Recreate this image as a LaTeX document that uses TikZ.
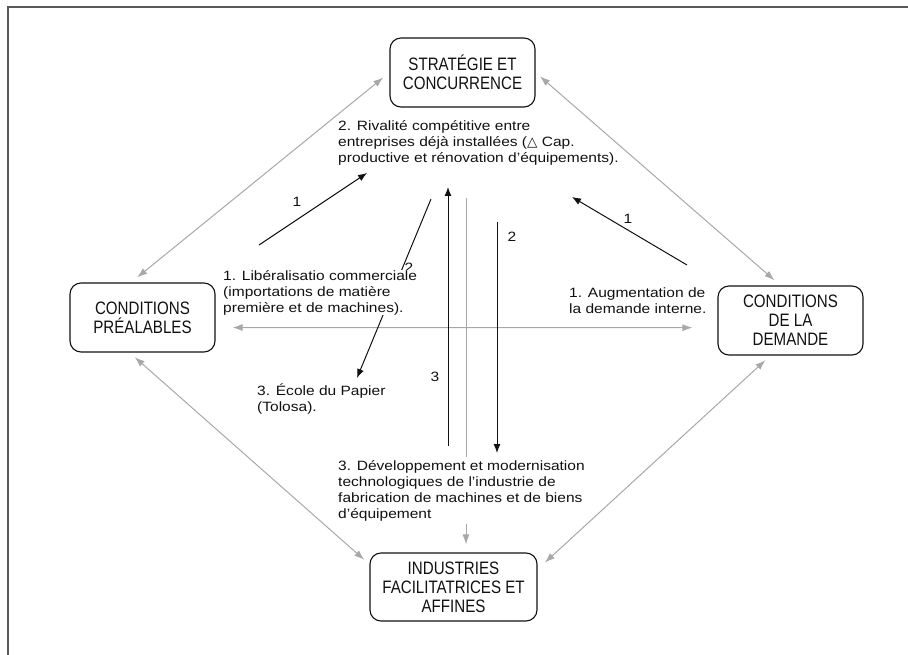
\documentclass[tikz,border=0pt]{standalone}
\usepackage{fontspec}
\setmainfont[FakeStretch=1.15]{Liberation Sans}
\newfontfamily\boxfont[FakeStretch=0.84]{Liberation Sans}
\newfontfamily\symfont{DejaVu Sans}
\usetikzlibrary{arrows.meta}
\definecolor{ink}{HTML}{111111}
\definecolor{lightink}{HTML}{A8A8A8}
\definecolor{framegray}{HTML}{5A5A5A}

\begin{document}
\begin{tikzpicture}[x=1pt,y=-1pt]

\useasboundingbox (0,0) rectangle (908,655);

\tikzstyle{pole}=[
	rectangle,
	rounded corners=11pt,
	draw=ink,
	line width=1.1pt,
	minimum width=145pt,
	minimum height=69pt,
	align=center,
	text=ink,
	font=\boxfont\fontsize{18}{19}\selectfont
]
\tikzstyle{txt}=[
	anchor=north west,
	inner sep=0pt,
	align=left,
	text=ink,
	font=\fontsize{13.5}{16}\selectfont
]
\tikzstyle{num}=[
	inner sep=0pt,
	text=ink,
	font=\fontsize{13.5}{16}\selectfont
]
\tikzstyle{arr}=[-{Latex[length=9pt,width=7pt]}, draw=ink, line width=1pt]
\tikzstyle{glink}=[draw=lightink, line width=1pt]
\tikzstyle{link}=[glink, {Latex[length=10pt,width=7pt]}-{Latex[length=10pt,width=7pt]}]

% frame
\draw[draw=framegray, line width=1.8pt] (8,655) -- (8,7) -- (908,7);

\node[pole] (strat) at (462.5,72.5) {STRATÉGIE ET\\CONCURRENCE};
\node[pole] (preal) at (142.5,317.5) {CONDITIONS\\PRÉALABLES};
\node[pole] (deman) at (790.5,320.5) {CONDITIONS\\DE LA\\DEMANDE};
\node[pole, minimum width=167pt, minimum height=68pt] (indus) at (453.5,587)
	{INDUSTRIES\\FACILITATRICES ET\\AFFINES};

\draw[link, shorten <=8pt, shorten >=8pt]
	(strat.west) -- ([xshift=-11.5pt]preal.north);
\draw[link, shorten <=6pt, shorten >=8pt]
	(strat.east) -- ([xshift=-10pt]deman.north);
\draw[link, shorten <=7pt, shorten >=7pt]
	([xshift=-13pt]preal.south) -- ([yshift=22.6pt]indus.west);
\draw[link, shorten <=7pt, shorten >=10pt]
	([xshift=-20pt]deman.south) -- ([yshift=17.7pt]indus.east);
\draw[link, shorten <=17pt, shorten >=25pt]
	([yshift=-10pt]preal.east) -- ([yshift=-7.2pt]deman.west);

\coordinate (gtop) at (466,198);
\coordinate (gbot) at (466,457);
\draw[glink] (gtop) -- (gbot);

\coordinate (p1s) at (259,245);
\coordinate (p1e) at (367,173);
\coordinate (q1s) at (687,265);
\coordinate (q1e) at (572,197);
\coordinate (p2s) at (431,199);
\coordinate (p2e) at (357,378);
\coordinate (p3s) at (448,446);
\coordinate (p3e) at (448,187);
\coordinate (q2s) at (497,222);
\coordinate (q2e) at (497,453);

\draw[arr] (p1s) -> (p1e);
\draw[arr] (q1s) -> (q1e);
\draw[arr] (p2s) -> (p2e);
\draw[arr] (p3s) -> (p3e);
\draw[arr] (q2s) -> (q2e);

\node[num] (lp1) at (297,202) {1};
\node[num] (lq1) at (628,219) {1};
\node[num] (lp2) at (409,268) {2};
\node[num] (lp3) at (435,377) {3};
\node[num] (lq2) at (512,237) {2};

\node[txt] (rival) at (338,120)
	{2. Rivalité compétitive entre\\entreprises déjà installées ({\symfont △} Cap.\\productive et rénovation d’équipements).};
\node[txt, fill=white] (liber) at (223,270)
	{1. Libéralisatio commerciale\\(importations de matière\\première et de machines).};
\node[txt] (augm) at (569,287.5)
	{1. Augmentation de\\la demande interne.};
\node[txt] (ecole) at (257,384)
	{3. École du Papier\\(Tolosa).};
\node[txt] (devel) at (338,460.5)
	{3. Développement et modernisation\\technologiques de l’industrie de\\fabrication de machines et de biens\\d’équipement};

\draw[glink, -{Latex[length=10pt,width=7pt]}, shorten <=2.5pt, shorten >=8pt]
	(gtop |- devel.south) -- (gtop |- indus.north);

\end{tikzpicture}
\end{document}
